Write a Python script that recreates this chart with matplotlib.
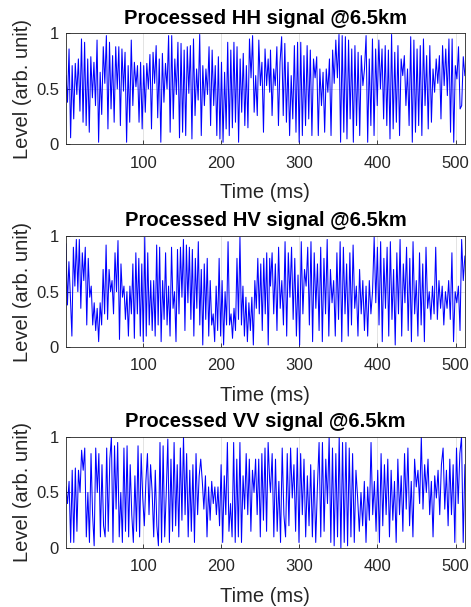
import numpy as np
import matplotlib
matplotlib.use('Agg')
import matplotlib.pyplot as plt

plt.rcParams['font.family'] = ['Liberation Sans', 'DejaVu Sans']

# levels, first part covers ~1-262 ms, second part ~263-512 ms
hh_a = [0.62, 0.38, 0.86, 0.06, 0.71, 0.23, 0.73, 0.45, 0.77, 0.3, 0.95, 0.2, 0.92, 0.17, 0.77, 0.11, 0.79, 0.42, 0.74, 0.35,
        0.94, 0.02, 0.65, 0.27, 0.88, 0.55, 0.98, 0.14, 0.92, 0.32, 0.8, 0.2, 0.88, 0.5, 0.88, 0.17, 0.86, 0.48, 0.83, 0.02,
        0.71, 0.2, 0.94, 0.35, 0.74, 0.52, 0.71, 0.2, 0.74, 0.14, 0.71, 0.29, 0.73, 0.5, 0.81, 0.14, 0.83, 0.55, 0.89, 0.24,
        0.77, 0.02, 0.82, 0.38, 0.73, 0.5, 0.98, 0.11, 0.98, 0.23, 0.77, 0.45, 0.92, 0.06, 0.91, 0.11, 0.85, 0.08, 0.88, 0.46,
        0.89, 0.05, 0.95, 0.26, 0.68, 0.4, 0.99, 0.08, 0.71, 0.35, 0.68, 0.45, 0.88, 0.17, 0.85, 0.35, 0.71, 0.08, 0.79, 0.05,
        0.74, 0.02, 0.65, 0.14, 0.92, 0.08, 0.85, 0.15, 0.92, 0.2, 0.88, 0.02, 0.77, 0.29, 0.82, 0.17, 0.71, 0.15, 0.95, 0.6,
        0.98, 0.29, 0.62, 0.26, 0.94, 0.53, 0.74, 0.11, 0.86, 0.53, 0.77, 0.47]
hh_b = [0.85, 0.26, 0.68, 0.53, 0.88, 0.17, 0.74, 0.97, 0.26, 0.91, 0.2, 0.74, 0.08, 0.62, 0.23, 0.89, 0.11, 0.92, 0.02, 0.92,
        0.08, 0.8, 0.17, 0.89, 0.23, 0.85, 0.08, 0.77, 0.6, 0.79, 0.08, 0.68, 0.35, 0.65, 0.11, 0.68, 0.47, 0.77, 0.08, 0.85,
        0.55, 0.94, 0.6, 0.99, 0.02, 0.98, 0.11, 0.97, 0.05, 0.94, 0.23, 0.86, 0.02, 0.89, 0.17, 0.83, 0.08, 0.8, 0.53, 0.68,
        0.98, 0.02, 0.77, 0.17, 0.95, 0.08, 0.86, 0.35, 0.94, 0.5, 0.86, 0.23, 0.89, 0.17, 0.85, 0.05, 0.99, 0.14, 0.83, 0.2,
        0.89, 0.08, 0.77, 0.62, 0.8, 0.35, 0.68, 0.17, 0.97, 0.02, 0.94, 0.11, 0.86, 0.17, 0.89, 0.08, 0.95, 0.35, 0.8, 0.14,
        0.89, 0.2, 0.68, 0.47, 0.77, 0.55, 0.8, 0.23, 0.89, 0.53, 0.86, 0.44, 0.95, 0.11, 0.95, 0.02, 0.71, 0.59, 0.88, 0.32,
        0.35, 0.79, 0.62]

hv_a = [0.93, 0.38, 0.77, 0.45, 0.1, 0.9, 0.55, 0.97, 0.5, 0.97, 0.35, 0.85, 0.6, 0.9, 0.2, 0.8, 0.45, 0.55, 0.2, 0.4,
        0.15, 0.35, 0.05, 0.4, 0.2, 0.7, 0.3, 0.92, 0.25, 0.7, 0.5, 0.6, 0.3, 0.85, 0.5, 0.96, 0.07, 0.75, 0.45, 0.55,
        0.25, 0.5, 0.1, 0.55, 0.3, 0.75, 0.08, 0.85, 0.3, 0.8, 0.1, 0.75, 0.05, 0.99, 0.1, 0.85, 0.2, 0.6, 0.15, 0.6,
        0.1, 0.92, 0.2, 0.9, 0.05, 0.6, 0.25, 0.85, 0.2, 0.55, 0.1, 0.9, 0.35, 0.5, 0.05, 0.88, 0.3, 0.9, 0.45, 0.97,
        0.15, 0.92, 0.4, 0.9, 0.25, 0.88, 0.1, 0.8, 0.35, 0.95, 0.2, 0.7, 0.02, 0.75, 0.25, 0.8, 0.1, 0.6, 0.2, 0.3,
        0.05, 0.55, 0.15, 0.8, 0.1, 0.6, 0.02, 0.5, 0.2, 0.95, 0.2, 0.3, 0.08, 0.35, 0.15, 0.8, 0.25, 0.99, 0.2, 0.55,
        0.1, 0.45, 0.05, 0.4, 0.15, 0.45, 0.02, 0.6, 0.35, 0.8, 0.3, 0.75, 0.15, 0.8, 0.3, 0.85, 0.02, 0.8]
hv_b = [0.55, 0.85, 0.3, 0.75, 0.15, 0.9, 0.35, 0.6, 0.2, 0.95, 0.1, 0.85, 0.45, 0.9, 0.25, 0.8, 0.1, 0.65, 0.02, 0.95,
        0.3, 0.7, 0.55, 0.9, 0.2, 0.95, 0.05, 0.85, 0.35, 0.75, 0.15, 0.9, 0.05, 0.8, 0.3, 0.97, 0.1, 0.7, 0.4, 0.6,
        0.1, 0.85, 0.25, 0.95, 0.05, 0.9, 0.3, 0.75, 0.1, 0.85, 0.2, 0.92, 0.35, 0.55, 0.1, 0.7, 0.3, 0.6, 0.15, 0.55,
        0.1, 0.6, 0.3, 0.5, 0.99, 0.4, 0.9, 0.2, 0.95, 0.05, 0.8, 0.35, 0.9, 0.1, 0.95, 0.25, 0.7, 0.02, 0.85, 0.3,
        0.97, 0.1, 0.75, 0.4, 0.9, 0.15, 0.8, 0.05, 0.95, 0.3, 0.6, 0.1, 0.85, 0.2, 0.75, 0.05, 0.9, 0.35, 0.5, 0.25,
        0.55, 0.3, 0.9, 0.25, 0.6, 0.35, 0.55, 0.2, 0.5, 0.35, 0.6, 0.25, 0.85, 0.05, 0.5, 0.4, 0.55, 0.15, 0.97, 0.6,
        0.82]

vv_a = [0.55, 0.4, 0.6, 0.05, 0.7, 0.05, 0.72, 0.15, 0.7, 0.5, 0.88, 0.7, 0.9, 0.1, 0.5, 0.05, 0.85, 0.3, 0.02, 0.9,
        0.5, 0.85, 0.1, 0.75, 0.2, 0.1, 0.9, 0.15, 0.8, 1.0, 0.05, 0.92, 0.35, 0.95, 0.1, 0.5, 0.05, 0.9, 0.15, 0.92,
        0.1, 0.75, 0.3, 0.05, 0.65, 0.15, 0.92, 0.1, 0.85, 0.45, 0.2, 0.6, 0.85, 0.3, 0.75, 0.5, 0.1, 0.7, 0.2, 0.02,
        0.95, 0.05, 0.92, 0.1, 0.5, 0.98, 0.05, 0.8, 0.15, 0.95, 0.2, 0.75, 0.1, 0.9, 0.25, 1.0, 0.3, 0.85, 0.1, 0.7,
        0.15, 0.75, 0.05, 0.85, 0.3, 0.65, 0.8, 0.6, 0.35, 0.65, 0.1, 0.55, 0.25, 0.6, 0.4, 0.55, 0.3, 0.55, 0.2, 0.75,
        0.05, 0.65, 0.3, 0.95, 0.15, 0.4, 0.1, 0.95, 0.05, 0.8, 0.1, 0.95, 0.05, 0.65, 0.35, 0.85, 0.3, 0.8, 0.15, 0.7,
        0.5, 0.8, 0.3, 0.8, 0.1, 0.85, 0.25, 0.9, 0.15, 0.95, 0.6]
vv_b = [0.5, 0.85, 0.1, 0.8, 0.15, 0.6, 0.05, 0.9, 0.3, 0.1, 0.85, 0.2, 0.9, 0.45, 0.75, 0.15, 0.9, 0.05, 0.85, 0.3,
        0.8, 0.1, 0.65, 0.2, 0.75, 0.1, 0.7, 0.05, 0.55, 0.95, 0.1, 0.95, 0.15, 0.8, 0.4, 1.0, 0.05, 0.9, 0.02, 0.85,
        0.1, 1.0, 0.0, 0.95, 0.05, 0.95, 0.02, 0.9, 0.1, 0.85, 0.05, 0.7, 0.45, 0.15, 0.5, 0.2, 0.6, 0.05, 0.55, 0.25,
        0.95, 0.3, 0.6, 0.15, 0.7, 0.05, 0.85, 0.2, 0.75, 0.3, 0.8, 0.1, 0.7, 0.25, 0.6, 0.05, 0.8, 0.3, 0.65, 0.15,
        0.85, 0.35, 0.9, 0.2, 0.6, 0.1, 0.8, 0.55, 0.7, 0.4, 1.0, 0.35, 0.75, 0.5, 0.8, 0.3, 0.6, 0.1, 0.65, 0.45,
        0.7, 0.3, 0.75, 0.9, 0.35, 0.7, 0.2, 0.8, 0.3, 0.75, 0.05, 0.9, 0.4, 0.85, 1.0, 0.05, 0.75]

titles = ['Processed HH signal @6.5km', 'Processed HV signal @6.5km', 'Processed VV signal @6.5km']
series = [(hh_a, hh_b), (hv_a, hv_b), (vv_a, vv_b)]

split_ms = 262
end_ms = 512

fig = plt.figure(figsize=(4.71, 6.07), dpi=100)
bottoms = [0.762, 0.428, 0.0972]

for k in range(3):
    part_a, part_b = series[k]
    t = np.concatenate([np.linspace(1, split_ms, len(part_a)),
                        np.linspace(split_ms + 1, end_ms, len(part_b))])
    y = np.array(part_a + part_b)

    ax = fig.add_axes([0.140, bottoms[k], 0.847, 0.183])
    ax.plot(t, y, color=(0, 0, 1), lw=0.75)
    ax.set_xlim(1, end_ms)
    ax.set_ylim(0, 1)
    ax.set_xticks([100, 200, 300, 400, 500])
    ax.set_yticks([0, 0.5, 1])
    ax.set_yticklabels(['0', '0.5', '1'])
    ax.grid(True, color='#262626', alpha=0.15, lw=0.6)
    ax.tick_params(direction='in', length=3, labelsize=12, colors='#262626', width=0.6)
    ax.tick_params(axis='x', pad=8)
    ax.tick_params(axis='y', pad=5)
    for sp in ax.spines.values():
        sp.set_color('#262626')
        sp.set_linewidth(0.6)
    ax.set_title(titles[k], fontsize=14.5, fontweight='bold', pad=7)
    ax.set_xlabel('Time (ms)', fontsize=14.5, color='#262626', labelpad=9)
    ax.set_ylabel('Level (arb. unit)', fontsize=14.5, color='#262626', labelpad=3)

fig.savefig('out.png', dpi=100)
